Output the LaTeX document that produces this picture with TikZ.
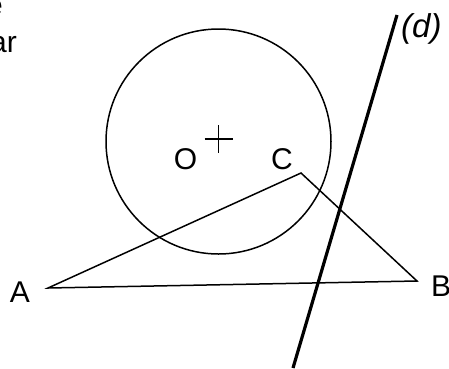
\documentclass[tikz,border=0pt]{standalone}
\usepackage{fontspec}
\setmainfont{Liberation Sans}
\usetikzlibrary{positioning, calc}
\tikzset{
    thinline/.style={line width=1.5pt, color=black},
    thickline/.style={line width=3.2pt, color=black, line cap=butt},
    ptlabel/.style={font=\fontsize{30}{36}\selectfont, inner sep=0pt, anchor=base},
}

\begin{document}
\begin{tikzpicture}[x=1pt, y=-1pt]
    \useasboundingbox (0,0) rectangle (449,368);

    % Points
    \coordinate (O) at (218.5,141.5);
    \coordinate (A) at (48,288);
    \coordinate (B) at (417,281);
    \coordinate (C) at (301,173);
    \coordinate (d1) at (293,368);
    \coordinate (d2) at (397,15);

    % Cut text at the margin
    \node[ptlabel, anchor=base east] (txte) at (3,15) {e};
    \node[ptlabel, anchor=base east] (txtar) at (17,52) {ar};

    % Circle and its centre
    \draw[thinline] (O) circle (112.5);
    \draw[thinline] ($(O)+(-14,-2.5)$) -- ($(O)+(14,-2.5)$);
    \draw[thinline] ($(O)+(0,-16.5)$) -- ($(O)+(0,11.5)$);

    % Triangle
    \draw[thinline, line join=miter] (A) -- (B) -- (C) -- cycle;

    % Line (d)
    \draw[thickline] (d1) -- (d2);

    % Labels
    \node[ptlabel] (lA) at (20,302) {A};
    \node[ptlabel] (lB) at (441,296) {B};
    \node[ptlabel] (lO) at (185.5,169) {O};
    \node[ptlabel] (lC) at (282,169) {C};
    \node[ptlabel, anchor=base west, font=\fontsize{33}{38}\selectfont\itshape] (ld) at (401,37) {(d)};
\end{tikzpicture}
\end{document}
